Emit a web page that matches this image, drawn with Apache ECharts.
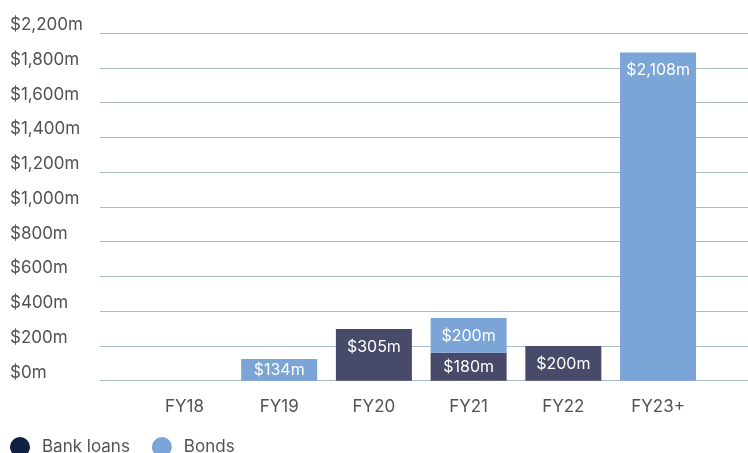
<!DOCTYPE html>
<html>
<head>
<meta charset="utf-8">
<script src="https://cdn.jsdelivr.net/npm/echarts@6/dist/echarts.min.js"></script>
<style>html,body{margin:0;padding:0;background:#fff;}#c{width:748px;height:453px;}</style>
</head>
<body>
<div id="c"></div>
<script>
// Categories
var categories = ['FY18', 'FY19', 'FY20', 'FY21', 'FY22', 'FY23+'];
// Bar heights as drawn in the picture ($m on the axis scale)
var bankLoans = [null, null, 297, 161, 200, null];
var bonds = [null, 125, null, 199, null, 1888];
// Labels printed on the bars
var bankLabels = [null, null, '$305m', '$180m', '$200m', null];
var bondLabels = [null, '$134m', null, '$200m', null, '$2,108m'];
// Y tick labels (one per 200 step)
var yTickLabels = ['$0m', '$200m', '$400m', '$600m', '$800m', '$1,000m', '$1,200m', '$1,400m', '$1,600m', '$1,800m', '$2,200m'];

var FONT = 'Inter';
var TXT = '#4f5357';

function buildData(values, labels) {
  return values.map(function (v, i) {
    if (v == null) return null;
    var small = v < 175;
    return {
      value: v,
      label: {
        show: true,
        position: small ? 'inside' : 'insideTop',
        distance: 10,
        formatter: labels[i],
        color: '#ffffff',
        fontFamily: FONT,
        fontSize: 16
      }
    };
  });
}

var chart = echarts.init(document.getElementById('c'), null, { renderer: 'canvas' });
chart.setOption({
  animation: false,
  grid: [
    { left: 100, right: 0, top: 33, bottom: 72.3 },
    { left: 137.1, right: 42.6, top: 33, bottom: 72.3 }
  ],
  xAxis: [
    { gridIndex: 0, type: 'value', show: false, min: 0, max: 1 },
    {
      gridIndex: 1, type: 'category', data: categories,
      axisLine: { show: false }, axisTick: { show: false },
      axisLabel: { color: TXT, fontFamily: FONT, fontSize: 17, margin: 18 }
    }
  ],
  yAxis: [
    {
      gridIndex: 0, type: 'value', min: 0, max: 2000, interval: 200,
      axisLine: { show: false }, axisTick: { show: false },
      splitLine: { lineStyle: { color: '#a9bcc7', width: 1 } },
      axisLabel: {
        color: TXT, fontFamily: FONT, fontSize: 17, align: 'left', margin: 90,
        verticalAlign: 'bottom', lineHeight: 16,
        formatter: function (v) { return yTickLabels[Math.round(v / 200)]; }
      }
    },
    { gridIndex: 1, type: 'value', min: 0, max: 2000, interval: 200, show: false, splitLine: { show: false } }
  ],
  legend: {
    left: 10, top: 437, padding: 0,
    icon: 'circle', itemWidth: 20, itemHeight: 20, itemGap: 22,
    textStyle: { color: TXT, fontFamily: FONT, fontSize: 17, padding: [0, 0, 0, 7] },
    data: [
      { name: 'Bank loans', itemStyle: { color: '#0f2244' } },
      { name: 'Bonds', itemStyle: { color: '#7ba4d7' } }
    ]
  },
  series: [
    {
      name: 'Bank loans', type: 'bar', stack: 'total', xAxisIndex: 1, yAxisIndex: 1,
      barWidth: 76, itemStyle: { color: '#474a69' },
      data: buildData(bankLoans, bankLabels)
    },
    {
      name: 'Bonds', type: 'bar', stack: 'total', xAxisIndex: 1, yAxisIndex: 1,
      barWidth: 76, itemStyle: { color: '#7ba4d7' },
      data: buildData(bonds, bondLabels)
    }
  ]
});
</script>
</body>
</html>
